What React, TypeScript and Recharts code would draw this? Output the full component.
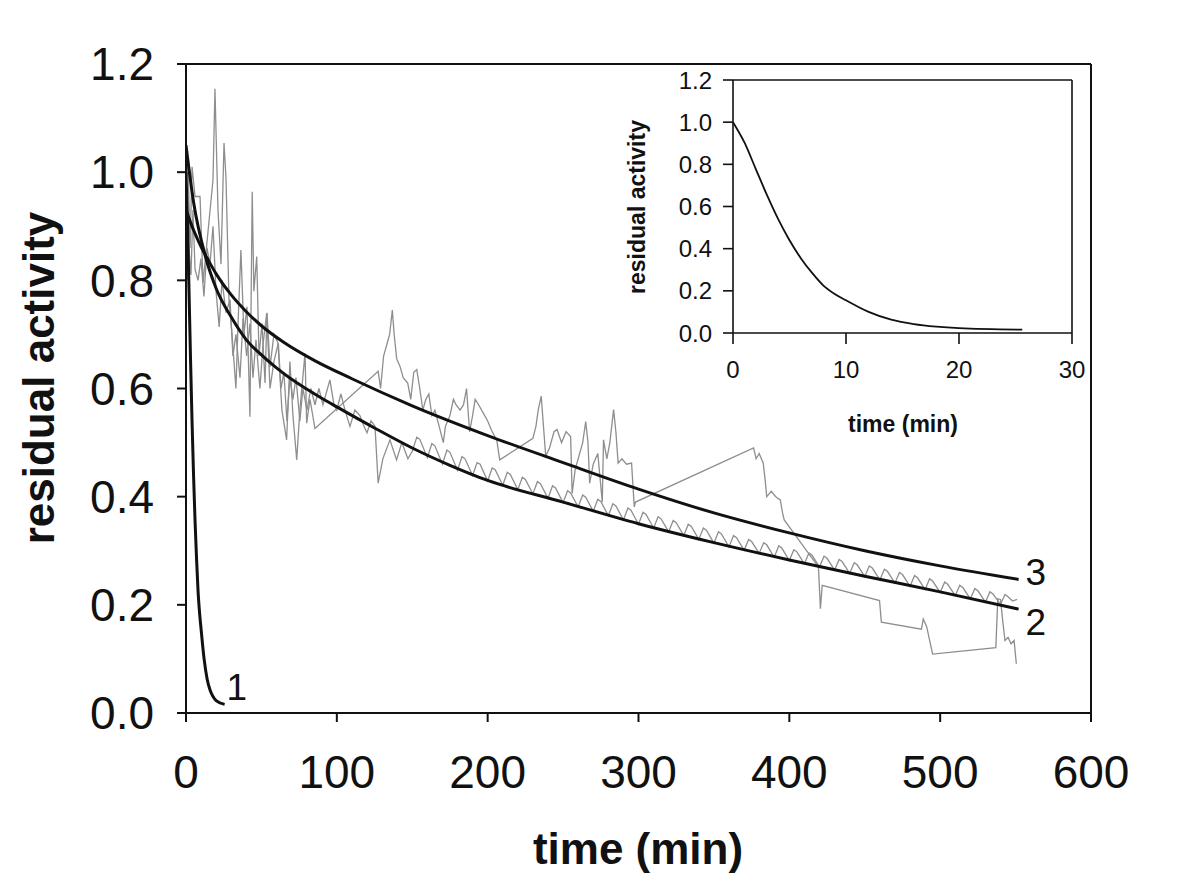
import React from 'react';
import { LineChart, Line, XAxis, YAxis, ReferenceLine, LabelList } from 'recharts';

const FONT = '"Liberation Sans", Arial, Helvetica, sans-serif';
const INK = '#111111';
const GREY = '#8e8e8e';

// ---- main axes ----
const xTicks = [0, 100, 200, 300, 400, 500, 600];
const yTicks = [0, 0.2, 0.4, 0.6, 0.8, 1.0, 1.2];
// ---- inset axes ----
const insetXTicks = [0, 10, 20, 30];
const insetYTicks = [0, 0.2, 0.4, 0.6, 0.8, 1.0, 1.2];

// curve 1 (fast decay, also shown in inset): [time, activity]
const curve1: [number, number][] = [
  [0, 1.0], [1, 0.905], [2, 0.78], [3, 0.655], [4, 0.54], [5, 0.44], [6, 0.355], [7, 0.285],
  [8, 0.225], [9, 0.185], [10, 0.155], [12, 0.1], [14, 0.063], [16, 0.042], [18, 0.03],
  [20, 0.023], [25.6, 0.016],
];

// curve 2 fit
const curve2: [number, number][] = [
  [0, 1.05], [5, 0.945], [12.8, 0.845], [20, 0.785], [30, 0.732], [40, 0.69], [50, 0.662],
  [60, 0.638], [70, 0.617], [80, 0.599], [90, 0.582], [100, 0.566], [125, 0.527], [150, 0.49],
  [175, 0.458], [200, 0.43], [250, 0.39], [300, 0.35], [350, 0.315], [400, 0.283], [450, 0.253],
  [500, 0.224], [552, 0.192],
];

// curve 3 fit
const curve3: [number, number][] = [
  [0, 0.93], [5, 0.893], [10, 0.862], [15, 0.836], [20, 0.812], [30, 0.773], [40, 0.742],
  [50, 0.716], [65, 0.685], [85, 0.652], [110, 0.618], [150, 0.568], [200, 0.513], [250, 0.463],
  [300, 0.414], [350, 0.37], [400, 0.333], [450, 0.3], [500, 0.272], [552, 0.247],
];

// measured trace A (spiky, with interpolated gaps)
const traceA: [number, number][] = [
  [0, 0.98], [1.3, 1.02], [2.7, 0.86], [4, 1.01], [6, 0.955], [9.3, 0.955], [11.3, 0.795],
  [17.9, 0.986], [19.2, 1.154], [21.2, 0.93], [23.2, 0.83], [25.2, 1.054], [26.5, 0.99],
  [28.5, 0.764], [30.5, 0.7], [33.1, 0.6], [34.5, 0.72], [36.4, 0.856], [38.4, 0.7],
  [40.4, 0.751], [42.4, 0.548], [43.9, 0.964], [45, 0.78], [46.9, 0.844], [48.4, 0.66],
  [50.4, 0.72], [52.4, 0.61], [53.7, 0.74], [55.7, 0.64], [58.3, 0.7], [61, 0.684],
  [63.6, 0.56], [66.7, 0.505], [68.9, 0.65], [70.9, 0.55], [73.4, 0.468], [75.5, 0.56],
  [78.9, 0.665], [80, 0.536], [82.2, 0.58], [85.5, 0.526],
  [127.4, 0.632], [129, 0.6], [131, 0.66], [133, 0.68], [135, 0.7], [136.8, 0.745], [138, 0.7],
  [139.7, 0.655], [142, 0.64], [144, 0.62], [147, 0.61], [149, 0.58], [151, 0.63], [153, 0.635],
  [155, 0.6], [157, 0.56], [159, 0.58], [161, 0.59], [163, 0.55], [165, 0.56], [168.4, 0.524],
  [170.6, 0.5], [172, 0.53], [175, 0.55], [177.3, 0.58], [179, 0.57], [181.7, 0.56], [184, 0.57],
  [186, 0.6], [188, 0.52], [190, 0.55], [191.7, 0.58], [194, 0.57], [197, 0.555], [200, 0.54],
  [203, 0.52], [206, 0.505], [208, 0.468],
  [230, 0.508], [232, 0.53], [233.5, 0.56], [235.5, 0.586], [237, 0.53], [238.5, 0.475],
  [241, 0.49], [244, 0.52], [246, 0.524], [249, 0.5], [252, 0.52], [255, 0.511], [256, 0.406],
  [258, 0.45], [261, 0.48], [263, 0.5], [265, 0.539], [266.5, 0.5], [267.6, 0.425], [270, 0.46],
  [273, 0.48], [276, 0.39], [276.8, 0.505], [279, 0.47], [281, 0.5], [283.5, 0.561], [285, 0.52],
  [286.5, 0.462], [289, 0.47], [292, 0.46], [295.4, 0.462], [297.2, 0.381], [298, 0.39],
  [376.3, 0.49], [378, 0.47], [380, 0.48], [382.7, 0.462], [384, 0.43], [385, 0.4], [388, 0.41],
  [391, 0.4], [394, 0.394], [395.5, 0.37], [396.6, 0.357],
  [419.3, 0.27], [420.6, 0.193], [421.8, 0.236],
  [459.8, 0.208], [461, 0.168], [487.6, 0.155], [488.8, 0.174], [491, 0.16], [495, 0.109],
  [536.9, 0.121], [538.2, 0.211], [540, 0.21], [541.5, 0.17], [543, 0.134], [545, 0.14],
  [547, 0.128], [549, 0.134], [550.5, 0.091],
];

// measured trace B (sawtooth, follows curve 2)
const traceB: [number, number][] = [
  [0, 0.9], [0.7, 0.8], [2, 0.86], [3.3, 0.81], [4.6, 0.93], [6, 0.82], [8, 0.8], [9.9, 0.84],
  [11.9, 0.77], [13.9, 0.86], [15.9, 0.83], [17.9, 0.9], [19.9, 0.78], [22, 0.714], [23.9, 0.8],
  [26.5, 0.74], [29.2, 0.764], [31.1, 0.66], [33.1, 0.7], [35.8, 0.62], [37.8, 0.73], [40.2, 0.66],
  [42.4, 0.72], [44.4, 0.62], [46.4, 0.69], [49, 0.6], [51, 0.68], [53.5, 0.739], [55.7, 0.6],
  [58.3, 0.65], [61.2, 0.684], [63, 0.6], [64.9, 0.63], [66.9, 0.54], [68.9, 0.62], [70.9, 0.58],
  [72.9, 0.62], [75.5, 0.54], [77.5, 0.6], [80.2, 0.56], [82.8, 0.6], [85.5, 0.57], [88.1, 0.6],
  [90.8, 0.57], [95.4, 0.616], [98.1, 0.57], [100, 0.56], [102.7, 0.59], [105.4, 0.56],
  [108.7, 0.53], [112, 0.56], [115.3, 0.55], [118, 0.53], [120, 0.518], [122.6, 0.54],
  [125.3, 0.53], [127.4, 0.425], [130.5, 0.47], [135.2, 0.505], [139.6, 0.468], [143.1, 0.5],
  [147.1, 0.47],
  [150, 0.484], [153, 0.51], [155, 0.506], [160, 0.472], [163, 0.498], [165, 0.494],
  [170, 0.46], [173, 0.486], [175, 0.482], [180, 0.449], [183, 0.474], [185, 0.47],
  [190, 0.439], [193, 0.463], [195, 0.46], [200, 0.429], [203, 0.453], [205, 0.45],
  [210, 0.421], [213, 0.445], [215, 0.441], [220, 0.413], [223, 0.436], [225, 0.432],
  [230, 0.405], [233, 0.428], [235, 0.424], [240, 0.397], [243, 0.42], [245, 0.416],
  [250, 0.389], [253, 0.411], [255, 0.407], [260, 0.381], [263, 0.403], [265, 0.399],
  [270, 0.373], [273, 0.395], [275, 0.391], [280, 0.365], [283, 0.387], [285, 0.383],
  [290, 0.357], [293, 0.379], [295, 0.375], [300, 0.349], [303, 0.371], [305, 0.367],
  [310, 0.342], [313, 0.363], [315, 0.359], [320, 0.335], [323, 0.356], [325, 0.352],
  [330, 0.328], [333, 0.349], [335, 0.345], [340, 0.321], [343, 0.342], [345, 0.338],
  [350, 0.314], [353, 0.335], [355, 0.331], [360, 0.307], [363, 0.328], [365, 0.324],
  [370, 0.301], [373, 0.321], [375, 0.317], [380, 0.295], [383, 0.315], [385, 0.311],
  [390, 0.288], [393, 0.309], [395, 0.305], [400, 0.282], [403, 0.302], [405, 0.298],
  [410, 0.276], [413, 0.296], [415, 0.292], [420, 0.27], [423, 0.29], [425, 0.286],
  [430, 0.264], [433, 0.284], [435, 0.28], [440, 0.258], [443, 0.278], [445, 0.274],
  [450, 0.252], [453, 0.272], [455, 0.268], [460, 0.246], [463, 0.266], [465, 0.262],
  [470, 0.24], [473, 0.26], [475, 0.256], [480, 0.234], [483, 0.254], [485, 0.25],
  [490, 0.228], [493, 0.248], [495, 0.244], [500, 0.223], [503, 0.242], [505, 0.238],
  [510, 0.217], [513, 0.236], [515, 0.232], [520, 0.211], [523, 0.23], [525, 0.226],
  [530, 0.205], [533, 0.224], [535, 0.22], [540, 0.201], [543, 0.219], [545, 0.215],
  [548, 0.207], [551, 0.21],
];

const toRows = (pairs: [number, number][]) => pairs.map(([t, v]) => ({ t, v }));

const endLabel = (text: string, n: number, dx: number, dy: number) => (props: any) => {
  if (props.index !== n - 1) return null;
  return (
    <text x={props.x + dx} y={props.y + dy} fontSize={37} fontFamily={FONT} fill={INK}>
      {text}
    </text>
  );
};

const fmt1 = (v: number) => v.toFixed(1);

export default function App() {
  const c1 = toRows(curve1);
  const c2 = toRows(curve2);
  const c3 = toRows(curve3);
  const a = toRows(traceA);
  const b = toRows(traceB);
  return (
    <div style={{ position: 'absolute', left: 0, top: 0, width: 1200, height: 888, background: '#fff', fontFamily: FONT }}>
      <div style={{ position: 'absolute', left: 0, top: 0 }}>
        <LineChart width={1200} height={888} margin={{ top: 64, right: 109, bottom: 115, left: 0 }}>
          <XAxis
            type="number" dataKey="t" domain={[0, 600]} ticks={xTicks} interval={0} allowDataOverflow
            height={60} tickSize={9} tickMargin={33} stroke={INK}
            axisLine={{ stroke: INK, strokeWidth: 2 }} tickLine={{ stroke: INK, strokeWidth: 2 }}
            tick={{ fontSize: 46, fill: INK, fontFamily: FONT }}
          />
          <YAxis
            type="number" domain={[0, 1.2]} ticks={yTicks} interval={0} allowDataOverflow
            width={186} tickSize={9} tickMargin={23} stroke={INK} tickFormatter={fmt1}
            axisLine={{ stroke: INK, strokeWidth: 2 }} tickLine={{ stroke: INK, strokeWidth: 2 }}
            tick={{ fontSize: 46, fill: INK, fontFamily: FONT }}
          />
          <ReferenceLine y={1.2} stroke={INK} strokeWidth={2} />
          <ReferenceLine x={600} stroke={INK} strokeWidth={2} />
          <Line data={a} dataKey="v" type="linear" stroke={GREY} strokeWidth={1.3} dot={false} isAnimationActive={false} />
          <Line data={b} dataKey="v" type="linear" stroke={GREY} strokeWidth={1.3} dot={false} isAnimationActive={false} />
          <Line data={c1} dataKey="v" type="monotone" stroke={INK} strokeWidth={3} dot={false} isAnimationActive={false}>
            <LabelList dataKey="v" content={endLabel('1', c1.length, 2, -4)} />
          </Line>
          <Line data={c2} dataKey="v" type="monotone" stroke={INK} strokeWidth={3} dot={false} isAnimationActive={false}>
            <LabelList dataKey="v" content={endLabel('2', c2.length, 7, 26)} />
          </Line>
          <Line data={c3} dataKey="v" type="monotone" stroke={INK} strokeWidth={3} dot={false} isAnimationActive={false}>
            <LabelList dataKey="v" content={endLabel('3', c3.length, 7, 6)} />
          </Line>
        </LineChart>
      </div>
      <div style={{ position: 'absolute', left: 580, top: 40 }}>
        <LineChart width={520} height={420} margin={{ top: 40, right: 28, bottom: 67, left: 0 }}>
          <XAxis
            type="number" dataKey="t" domain={[0, 30]} ticks={insetXTicks} interval={0} allowDataOverflow
            height={60} tickSize={11} tickMargin={17} stroke={INK}
            axisLine={{ stroke: INK, strokeWidth: 1.6 }} tickLine={{ stroke: INK, strokeWidth: 1.6 }}
            tick={{ fontSize: 24, fill: INK, fontFamily: FONT }}
          />
          <YAxis
            type="number" domain={[0, 1.2]} ticks={insetYTicks} interval={0} allowDataOverflow
            width={153} tickSize={10} tickMargin={11} stroke={INK} tickFormatter={fmt1}
            axisLine={{ stroke: INK, strokeWidth: 1.6 }} tickLine={{ stroke: INK, strokeWidth: 1.6 }}
            tick={{ fontSize: 24, fill: INK, fontFamily: FONT }}
          />
          <ReferenceLine y={1.2} stroke={INK} strokeWidth={1.6} />
          <ReferenceLine x={30} stroke={INK} strokeWidth={1.6} />
          <Line data={c1} dataKey="v" type="monotone" stroke={INK} strokeWidth={1.8} dot={false} isAnimationActive={false} />
        </LineChart>
      </div>
      <svg width={1200} height={888} style={{ position: 'absolute', left: 0, top: 0, pointerEvents: 'none' }}>
        <text x={638} y={864} textAnchor="middle" fontSize={44} fontWeight="bold" fontFamily={FONT} fill={INK}>time (min)</text>
        <text x={54} y={378} transform="rotate(-90 54 378)" textAnchor="middle" fontSize={44} fontWeight="bold" fontFamily={FONT} fill={INK}>residual activity</text>
        <text x={903} y={432} textAnchor="middle" fontSize={23} fontWeight="bold" fontFamily={FONT} fill={INK}>time (min)</text>
        <text x={645} y={207} transform="rotate(-90 645 207)" textAnchor="middle" fontSize={23} fontWeight="bold" fontFamily={FONT} fill={INK}>residual activity</text>
      </svg>
    </div>
  );
}
